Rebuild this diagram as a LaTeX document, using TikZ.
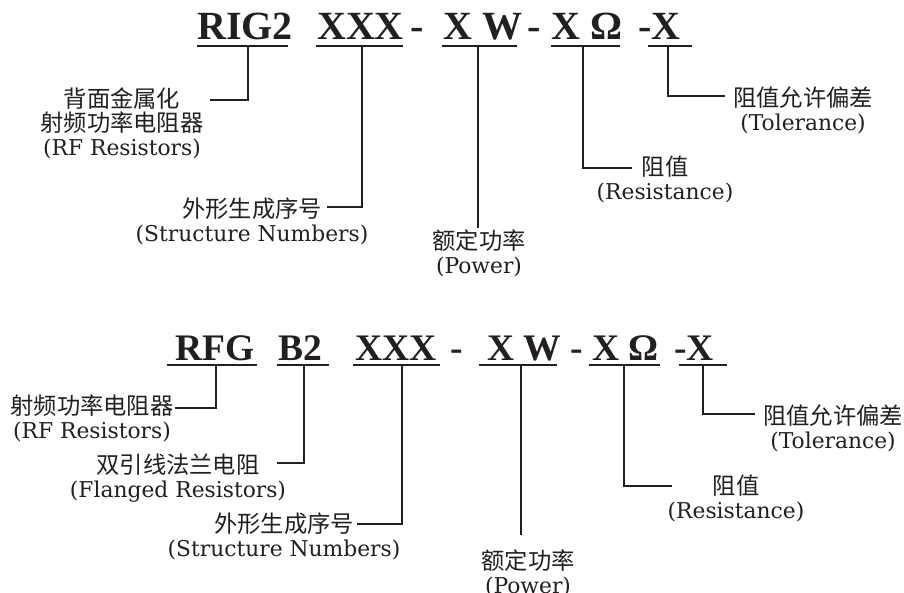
\documentclass[tikz,border=0pt]{standalone}
\usepackage{fontspec}
\setmainfont{DejaVu Serif}
\newfontfamily\cjk{Noto Sans CJK SC}
\newfontfamily\hdr{Liberation Serif}
\definecolor{ink}{HTML}{231F20}
\newcommand\zh[1]{{\cjk\fontsize{23.3}{24}\selectfont #1}}
\begin{document}
\begin{tikzpicture}[x=1pt,y=-1pt,
  lbl/.style={align=center,anchor=north,inner sep=0pt,text=ink,font=\fontsize{21.8}{24}\selectfont},
  code/.style={anchor=base west,inner sep=0pt,text=ink,font=\hdr\bfseries\fontsize{40}{40}\selectfont},
  codeb/.style={code,font=\hdr\bfseries\fontsize{37.5}{40}\selectfont},
  uline/.style={draw=ink,line width=1.6pt},
  conn/.style={draw=ink,line width=1.2pt}]
\fill[white] (0,0) rectangle (904,593);
\useasboundingbox (0,0) rectangle (904,593);

% ---------- top code ----------
\node[code] (aR) at (197,40) {RIG2};
\node[code] (aX) at (317,40) {XXX};
\node[code] (aD1) at (410,40) {-};
\node[code] (aW) at (443,40) {X W};
\node[code] (aD2) at (527,40) {-};
\node[code] (aO) at (551,40) {X Ω};
\node[code] (aT) at (638,40) {-X};

\coordinate (aRu1) at (197,46); \coordinate (aRu2) at (288,46);
\coordinate (aXu1) at (316,46); \coordinate (aXu2) at (403,46);
\coordinate (aWu1) at (442,46); \coordinate (aWu2) at (517,46);
\coordinate (aOu1) at (551,46); \coordinate (aOu2) at (620,46);
\coordinate (aTu1) at (648,46); \coordinate (aTu2) at (692,46);
\draw[uline] (aRu1) -- (aRu2);
\draw[uline] (aXu1) -- (aXu2);
\draw[uline] (aWu1) -- (aWu2);
\draw[uline] (aOu1) -- (aOu2);
\draw[uline] (aTu1) -- (aTu2);

% top labels
\node[lbl] (aL1) at (122,88) {\zh{背面金属化}\\\zh{射频功率电阻器}\\(RF Resistors)};
\node[lbl] (aL2) at (252,198) {\zh{外形生成序号}\\(Structure Numbers)};
\node[lbl] (aL3) at (479,230) {\zh{额定功率}\\(Power)};
\node[lbl] (aL4) at (665,156) {\zh{阻值}\\(Resistance)};
\node[lbl] (aL5) at (803,87) {\zh{阻值允许偏差}\\(Tolerance)};

% top connectors
\coordinate (aRs) at (248,46); \coordinate (aRe) at (210,100);
\coordinate (aXs) at (362,46); \coordinate (aXe) at (327,207);
\coordinate (aWs) at (478,46); \coordinate (aWe) at (478,228);
\coordinate (aOs) at (583,46); \coordinate (aOe) at (632,168);
\coordinate (aTs) at (668,46); \coordinate (aTe) at (725,96);
\draw[conn] (aRs) |- (aRe);
\draw[conn] (aXs) |- (aXe);
\draw[conn] (aWs) -- (aWe);
\draw[conn] (aOs) |- (aOe);
\draw[conn] (aTs) |- (aTe);

% ---------- bottom code ----------
\node[codeb] (bR) at (175,360) {RFG};
\node[codeb] (bB) at (278,360) {B2};
\node[codeb] (bX) at (355,360) {XXX};
\node[codeb] (bD1) at (450,360) {-};
\node[codeb] (bW) at (487,360) {X W};
\node[codeb] (bD2) at (570,360) {-};
\node[codeb] (bO) at (592,360) {X Ω};
\node[codeb] (bT) at (674,360) {-X};

\coordinate (bRu1) at (167,365); \coordinate (bRu2) at (257,365);
\coordinate (bBu1) at (277,365); \coordinate (bBu2) at (329,365);
\coordinate (bXu1) at (353,365); \coordinate (bXu2) at (440,365);
\coordinate (bWu1) at (479,365); \coordinate (bWu2) at (557,365);
\coordinate (bOu1) at (589,365); \coordinate (bOu2) at (660,365);
\coordinate (bTu1) at (679,365); \coordinate (bTu2) at (727,365);
\draw[uline] (bRu1) -- (bRu2);
\draw[uline] (bBu1) -- (bBu2);
\draw[uline] (bXu1) -- (bXu2);
\draw[uline] (bWu1) -- (bWu2);
\draw[uline] (bOu1) -- (bOu2);
\draw[uline] (bTu1) -- (bTu2);

% bottom labels
\node[lbl] (bL1) at (92,395) {\zh{射频功率电阻器}\\(RF Resistors)};
\node[lbl] (bL2) at (178,454) {\zh{双引线法兰电阻}\\(Flanged Resistors)};
\node[lbl] (bL3) at (284,513) {\zh{外形生成序号}\\(Structure Numbers)};
\node[lbl] (bL4) at (528,550) {\zh{额定功率}\\(Power)};
\node[lbl] (bL5) at (736,475) {\zh{阻值}\\(Resistance)};
\node[lbl] (bL6) at (833,405) {\zh{阻值允许偏差}\\(Tolerance)};

% bottom connectors
\coordinate (bRs) at (216,365); \coordinate (bRe) at (175,408);
\coordinate (bBs) at (304,365); \coordinate (bBe) at (277,463);
\coordinate (bXs) at (402,365); \coordinate (bXe) at (357,524);
\coordinate (bWs) at (521,365); \coordinate (bWe) at (521,535);
\coordinate (bOs) at (624,365); \coordinate (bOe) at (672,486);
\coordinate (bTs) at (703,365); \coordinate (bTe) at (755,414);
\draw[conn] (bRs) |- (bRe);
\draw[conn] (bBs) |- (bBe);
\draw[conn] (bXs) |- (bXe);
\draw[conn] (bWs) -- (bWe);
\draw[conn] (bOs) |- (bOe);
\draw[conn] (bTs) |- (bTe);
\end{tikzpicture}
\end{document}
